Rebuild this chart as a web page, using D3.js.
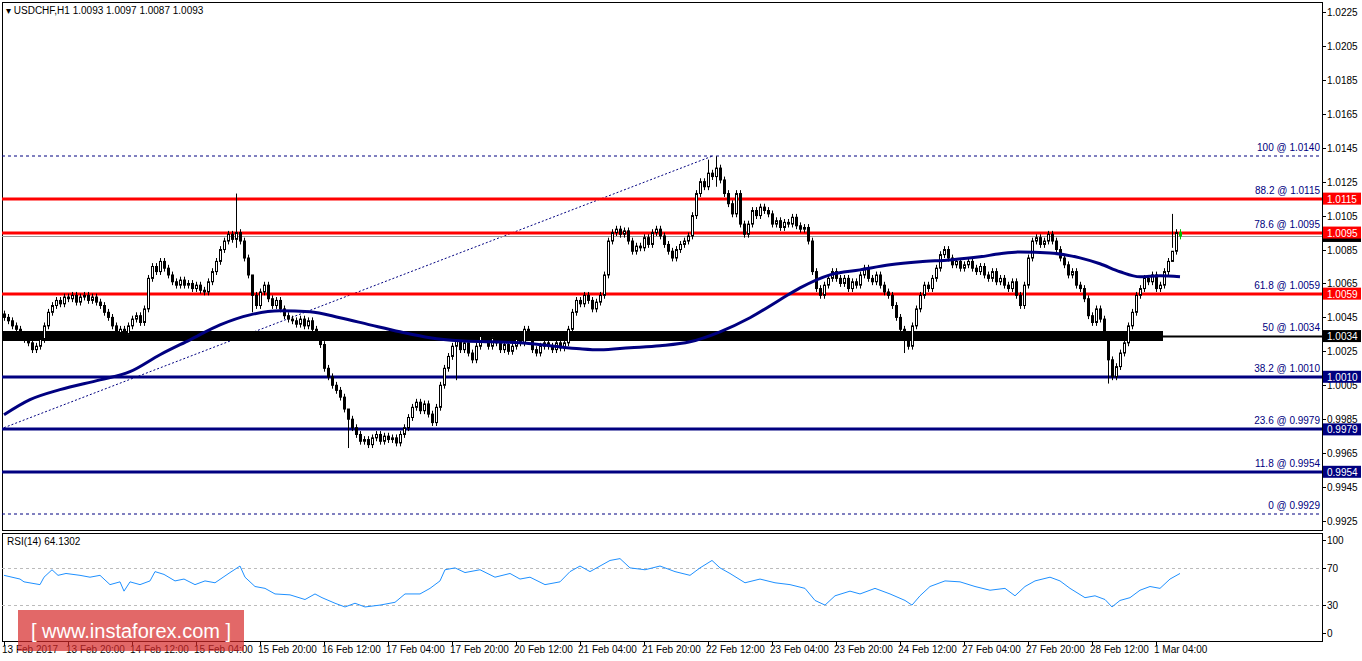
<!DOCTYPE html>
<html><head><meta charset="utf-8">
<script src="https://cdn.jsdelivr.net/npm/d3@7"></script>
<style>body{margin:0;background:#fff;font-family:"Liberation Sans",Arial,sans-serif}</style>
</head><body><svg id="c" width="1362" height="661"></svg>
<script>
// closes, one per H1 bar
const closes = [
1.0045,1.0043,1.0040,1.0038,1.0035,1.0032,1.0030,1.0026,1.0028,1.0032,
1.0040,1.0048,1.0052,1.0055,1.0053,1.0057,1.0056,1.0058,1.0054,1.0057,
1.0058,1.0055,1.0057,1.0054,1.0052,1.0048,1.0045,1.0040,1.0036,1.0038,
1.0035,1.0040,1.0044,1.0046,1.0042,1.0050,1.0068,1.0075,1.0072,1.0078,
1.0074,1.0070,1.0066,1.0064,1.0067,1.0064,1.0065,1.0062,1.0064,1.0061,
1.0060,1.0066,1.0072,1.0078,1.0085,1.0090,1.0094,1.0091,1.0095,1.0090,
1.0080,1.0070,1.0058,1.0052,1.0060,1.0064,1.0056,1.0052,1.0055,1.0050,
1.0046,1.0044,1.0043,1.0041,1.0044,1.0040,1.0043,1.0038,1.0034,1.0029,
1.0015,1.0010,1.0005,1.0002,0.9998,0.9991,0.9985,0.9980,0.9976,0.9972,
0.9973,0.9970,0.9974,0.9976,0.9972,0.9975,0.9973,0.9974,0.9971,0.9976,
0.9980,0.9986,0.9992,0.9995,0.9990,0.9994,0.9988,0.9983,0.9992,1.0005,
1.0015,1.0022,1.0028,1.0032,1.0026,1.0030,1.0024,1.0020,1.0028,1.0034,
1.0032,1.0028,1.0033,1.0030,1.0026,1.0029,1.0025,1.0028,1.0032,1.0030,
1.0038,1.0034,1.0026,1.0024,1.0028,1.0030,1.0028,1.0026,1.0030,1.0027,
1.0030,1.0038,1.0048,1.0055,1.0053,1.0058,1.0055,1.0050,1.0054,1.0058,
1.0070,1.0090,1.0095,1.0097,1.0094,1.0096,1.0090,1.0084,1.0087,1.0086,
1.0092,1.0088,1.0095,1.0097,1.0093,1.0088,1.0084,1.0080,1.0085,1.0088,
1.0090,1.0093,1.0105,1.0118,1.0125,1.0122,1.0130,1.0128,1.0133,1.0126,
1.0118,1.0112,1.0106,1.0118,1.0100,1.0094,1.0100,1.0108,1.0105,1.0110,
1.0108,1.0106,1.0100,1.0102,1.0098,1.0101,1.0100,1.0104,1.0099,1.0097,
1.0098,1.0090,1.0072,1.0062,1.0058,1.0064,1.0068,1.0072,1.0068,1.0065,
1.0068,1.0062,1.0066,1.0064,1.0070,1.0074,1.0068,1.0066,1.0070,1.0064,
1.0060,1.0058,1.0052,1.0045,1.0038,1.0034,1.0028,1.0040,1.0050,1.0058,
1.0064,1.0062,1.0068,1.0074,1.0082,1.0085,1.0080,1.0076,1.0078,1.0074,
1.0076,1.0078,1.0074,1.0072,1.0075,1.0070,1.0068,1.0072,1.0066,1.0068,
1.0064,1.0062,1.0066,1.0058,1.0052,1.0064,1.0080,1.0090,1.0092,1.0088,
1.0090,1.0094,1.0090,1.0085,1.0080,1.0076,1.0070,1.0072,1.0064,1.0062,
1.0056,1.0046,1.0042,1.0050,1.0044,1.0036,1.0020,1.0010,1.0016,1.0024,
1.0030,1.0040,1.0048,1.0058,1.0062,1.0068,1.0066,1.0070,1.0062,1.0064,
1.0072,1.0078,1.0084,1.0095,1.0093];
// notable wicks: [bar, high, low]
const wicks = [[58,1.0118,1.0086],[62,1.0070,1.0048],[86,0.9990,0.9968],[113,1.0034,1.0008],[176,1.0138,1.0120],[178,1.0140,1.0122],[225,1.0040,1.0024],[276,1.0020,1.0006],[292,1.0106,1.0086]];
const maBars = [0,6.5,14,24,31.5,39,46.5,54,61.5,69,76.5,84,91.5,99,106.5,114,121.5,129,136.5,144,149,156.5,164,171.5,179,186.5,194,199,206.5,214,221.5,229,236.5,244,249,254,261.5,269,274,279,284,289,294];
const maVals = [0.99876,0.99965,1.00024,1.00082,1.00130,1.00230,1.00318,1.00406,1.00465,1.00489,1.00483,1.00448,1.00406,1.00365,1.00330,1.00312,1.00306,1.00300,1.00283,1.00265,1.00259,1.00271,1.00283,1.00306,1.00365,1.00448,1.00554,1.00624,1.00701,1.00730,1.00760,1.00778,1.00789,1.00807,1.00825,1.00836,1.00830,1.00801,1.00766,1.00719,1.00689,1.00695,1.00689];
const rsiBars = [0,4,5,9,10,12,13.5,15.5,19,21.5,24,26.5,29,30,31.5,34,36.5,37.75,40,42.75,45,47.75,50.25,52.75,56.5,59,60.25,62.75,65.25,67.75,71.5,75.25,77.75,79.5,82.75,85.25,87.75,90.25,94,97.75,100.25,104,106.5,109,110.25,112.75,115.25,119,122.75,126.5,129,131.5,135.25,139,141.5,144,146.5,149,151.5,154,156.5,160.25,164,167.75,171.5,174,177,179,181.5,185.25,189,192.75,196.5,200.25,202.75,205.25,207.75,211.5,214,217.75,221.5,225.25,227,229,231.5,235.25,239,242.75,246.5,250.25,252.75,255.25,257.75,261.5,264,266.5,270.25,272.75,275.25,277,279,281.5,284,286.5,289,291.5,294];
const rsiVals = [62,58,55,52,60,68,62,64,62,60,62,52,55,45,55,52,56,66,63,56,58,52,56,54,65,72,60,50,48,42,41,36,42,38,32,28,32,28,30,33,42,42,48,56,68,70,65,68,60,64,58,60,52,55,66,72,66,72,78,80,70,68,72,66,62,70,78,70,64,54,58,54,52,48,35,30,40,45,42,48,42,35,30,40,50,56,55,50,46,48,40,50,56,60,56,48,38,40,36,28,35,38,46,50,48,58,64];
const priceTicks = [1.0225,1.0205,1.0185,1.0165,1.0145,1.0125,1.0105,1.0085,1.0065,1.0045,1.0025,1.0005,0.9985,0.9965,0.9945,0.9925];
const timeLabels = ["13 Feb 2017","13 Feb 20:00","14 Feb 12:00","15 Feb 04:00","15 Feb 20:00","16 Feb 12:00","17 Feb 04:00","17 Feb 20:00","20 Feb 12:00","21 Feb 04:00","21 Feb 20:00","22 Feb 12:00","23 Feb 04:00","23 Feb 20:00","24 Feb 12:00","27 Feb 04:00","27 Feb 20:00","28 Feb 12:00","1 Mar 04:00"];
const fibPct = ["100","88.2","78.6","61.8","50","38.2","23.6","11.8","0"];
const fibPrice = [1.0140,1.0115,1.0095,1.0059,1.0034,1.0010,0.9979,0.9954,0.9929];
const fibColor = ["#000080","red","red","red","#000","#000080","#000080","#000080","#000080"];
const boxPrice = [1.0115,1.0095,1.0059,1.0034,1.0010,0.9979,0.9954];
const boxFill = ["red","red","red","#000","#000080","#000080","#000080"];

const svg = d3.select("#c");
const L = 2, R = 1322;
const x = d3.scaleLinear().domain([0, 1]).range([4, 8]);
const y = d3.scaleLinear().domain([0.9925, 1.0225]).range([521, 12]);
const yr = d3.scaleLinear().domain([0, 100]).range([633, 540]);

// frames
svg.append("rect").attr("x", L + .5).attr("y", 2.5).attr("width", R - L).attr("height", 528).attr("fill", "none").attr("stroke", "#000");
svg.append("rect").attr("x", L + .5).attr("y", 533.5).attr("width", R - L).attr("height", 108).attr("fill", "none").attr("stroke", "#000");

// price axis
const pa = svg.append("g").attr("font-size", 10);
priceTicks.forEach(p => {
  pa.append("line").attr("x1", R).attr("x2", R + 4).attr("y1", Math.round(y(p)) + .5).attr("y2", Math.round(y(p)) + .5).attr("stroke", "#000");
  pa.append("text").attr("x", R + 5).attr("y", y(p) + 4).text(p.toFixed(4));
});
[100, 70, 30, 0].forEach(v => {
  pa.append("line").attr("x1", R).attr("x2", R + 4).attr("y1", Math.round(yr(v)) + .5).attr("y2", Math.round(yr(v)) + .5).attr("stroke", "#000");
  pa.append("text").attr("x", R + 5).attr("y", yr(v) + 4).text(v);
});

// time axis
const ta = svg.append("g").attr("font-size", 10);
timeLabels.forEach((t, i) => {
  const xx = Math.round(x(i * 16));
  ta.append("line").attr("x1", xx + .5).attr("x2", xx + .5).attr("y1", 642).attr("y2", 646).attr("stroke", "#000");
  ta.append("text").attr("x", xx - 2).attr("y", 653).text(t);
});

// fib trendline
svg.append("line").attr("x1", x(0)).attr("y1", y(0.9980)).attr("x2", x(177)).attr("y2", y(1.0140))
  .attr("stroke", "#000080").attr("stroke-dasharray", "2,2");

// fib levels
fibPrice.forEach((p, i) => {
  const yy = Math.round(y(p));
  const dashed = i === 0 || i === 8;
  if (fibColor[i] === "#000") {
    svg.append("rect").attr("x", L).attr("y", yy - 5).attr("width", 1163 - L).attr("height", 10).attr("fill", "#000");
    svg.append("line").attr("x1", L).attr("x2", R).attr("y1", yy + .5).attr("y2", yy + .5).attr("stroke", "#000").attr("stroke-width", 2);
  } else {
    svg.append("line").attr("x1", L).attr("x2", R).attr("y1", yy).attr("y2", yy)
      .attr("stroke", fibColor[i]).attr("stroke-width", dashed ? 1 : 3).attr("stroke-dasharray", dashed ? "3,3" : null);
  }
  svg.append("text").attr("x", R - 2).attr("y", yy - 5).attr("text-anchor", "end").attr("font-size", 10)
    .attr("fill", "#000080").text(`${fibPct[i]} @ ${p.toFixed(4)}`);
});

// current price line
svg.append("line").attr("x1", L).attr("x2", R).attr("y1", Math.round(y(1.0093)) + .5).attr("y2", Math.round(y(1.0093)) + .5).attr("stroke", "#999");

// candles
const cg = svg.append("g");
const wickMap = new Map(wicks.map(w => [w[0], w]));
closes.forEach((c, i) => {
  const o = i === 0 ? 1.0047 : closes[i - 1];
  const w = wickMap.get(i);
  const hi = w ? w[1] : Math.max(o, c) + 0.0002;
  const lo = w ? w[2] : Math.min(o, c) - 0.0002;
  const xx = Math.round(x(i)) + .5;
  const last = i === closes.length - 1;
  const col = last ? "#00c000" : "#000";
  cg.append("line").attr("x1", xx).attr("x2", xx).attr("y1", y(hi)).attr("y2", y(lo)).attr("stroke", col);
  const top = y(Math.max(o, c)), bot = y(Math.min(o, c));
  cg.append("rect").attr("x", xx - 1).attr("y", top).attr("width", 2).attr("height", Math.max(1, bot - top))
    .attr("fill", c >= o ? "#fff" : col).attr("stroke", col).attr("stroke-width", 1);
});

// moving average
svg.append("path").datum(maBars.map((b, i) => [b, maVals[i]]))
  .attr("d", d3.line().x(d => x(d[0])).y(d => y(d[1])).curve(d3.curveMonotoneX))
  .attr("fill", "none").attr("stroke", "#000080").attr("stroke-width", 3);

// price labels on axis
svg.append("rect").attr("x", R + 1).attr("y", y(1.0093) - 6).attr("width", 38).attr("height", 12).attr("fill", "#000");
boxPrice.forEach((p, i) => {
  svg.append("rect").attr("x", R + 1).attr("y", y(p) - 6).attr("width", 38).attr("height", 12).attr("fill", boxFill[i]);
  svg.append("text").attr("x", R + 5).attr("y", y(p) + 4).attr("font-size", 10).attr("fill", "#fff").text(p.toFixed(4));
});

// title
svg.append("text").attr("x", 6).attr("y", 14).attr("font-size", 10).text("▾ USDCHF,H1  1.0093 1.0097 1.0087 1.0093");

// RSI
[70, 30].forEach(v => svg.append("line").attr("x1", L).attr("x2", R).attr("y1", Math.round(yr(v)) + .5).attr("y2", Math.round(yr(v)) + .5)
  .attr("stroke", "#bbb").attr("stroke-dasharray", "3,3"));
svg.append("path").datum(rsiBars.map((b, i) => [b, rsiVals[i]]))
  .attr("d", d3.line().x(d => x(d[0])).y(d => yr(d[1])))
  .attr("fill", "none").attr("stroke", "#1e90ff").attr("stroke-width", 1);
svg.append("text").attr("x", 7).attr("y", 545).attr("font-size", 10).text("RSI(14) 64.1302");

// watermark
svg.append("rect").attr("x", 18).attr("y", 610).attr("width", 226).attr("height", 41).attr("fill", "rgba(214,40,40,0.7)");
svg.append("text").attr("x", 131).attr("y", 638).attr("text-anchor", "middle").attr("fill", "#fff").attr("font-size", 20)
  .text("[ www.instaforex.com ]");
</script></body></html>
